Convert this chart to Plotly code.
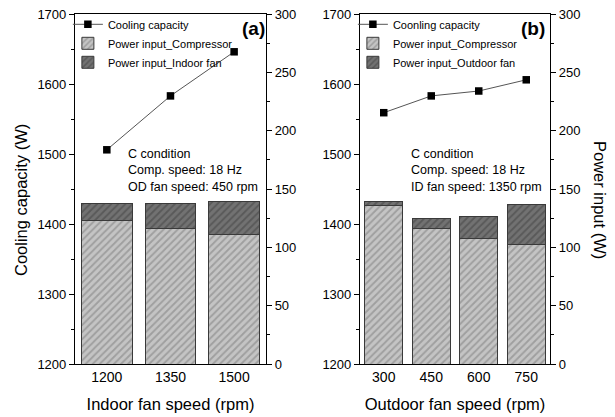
import plotly.graph_objects as go
from plotly.subplots import make_subplots

# ---- data ----
indoor_speed = ["1200", "1350", "1500"]
cap_a = [1506, 1583, 1646]
comp_a = [122.8, 116.3, 110.6]
fan_a = [15.2, 21.4, 28.8]

outdoor_speed = ["300", "450", "600", "750"]
cap_b = [1559, 1583, 1590, 1606]
comp_b = [136.0, 116.3, 107.7, 102.6]
fan_b = [3.7, 8.6, 18.6, 33.7]

FONT = "Arial, Liberation Sans, sans-serif"
LIGHT, LIGHT_FG = "#c4c4c4", "#7a7a7a"
DARK, DARK_FG = "#727272", "#404040"

fig = make_subplots(rows=1, cols=2, specs=[[{"secondary_y": True}, {"secondary_y": True}]])

def add_panel(col, xs, cap, comp, fan, cap_name, fan_name, legend):
    fig.add_trace(go.Bar(x=xs, y=comp, name="Power input_Compressor", legend=legend, legendrank=2,
                         marker=dict(color=LIGHT, line=dict(color="#3a3a3a", width=1),
                                     pattern=dict(shape="/", fgcolor=LIGHT_FG, bgcolor=LIGHT, size=5, solidity=0.38)),
                         width=0.8),
                  row=1, col=col, secondary_y=True)
    fig.add_trace(go.Bar(x=xs, y=fan, name=fan_name, legend=legend, legendrank=3,
                         marker=dict(color=DARK, line=dict(color="#3a3a3a", width=1),
                                     pattern=dict(shape="/", fgcolor=DARK_FG, bgcolor=DARK, size=5, solidity=0.38)),
                         width=0.8),
                  row=1, col=col, secondary_y=True)
    fig.add_trace(go.Scatter(x=xs, y=cap, name=cap_name, legend=legend, legendrank=1, mode="lines+markers",
                             line=dict(color="#555", width=1),
                             marker=dict(symbol="square", size=7.5, color="black")),
                  row=1, col=col, secondary_y=False)

add_panel(1, indoor_speed, cap_a, comp_a, fan_a, "Cooling capacity", "Power input_Indoor fan", "legend")
add_panel(2, outdoor_speed, cap_b, comp_b, fan_b, "Coonling capacity", "Power input_Outdoor fan", "legend2")

ytickfont = dict(family=FONT, size=13, color="black")
xtickfont = dict(family=FONT, size=14, color="black")
titlefont = dict(family=FONT, size=16.5, color="black")

xcommon = dict(showline=True, linecolor="black", linewidth=1.2, mirror=True, ticks="",
               tickfont=xtickfont, title_font=titlefont, showgrid=False, title_standoff=14)
fig.update_layout(
    xaxis=dict(domain=[0, 0.402], title_text="Indoor fan speed (rpm)", **xcommon),
    xaxis2=dict(domain=[0.6, 1.0], title_text="Outdoor fan speed (rpm)", **xcommon),
)

ycommon_left = dict(range=[1200, 1700], dtick=100, showline=True, linecolor="black", linewidth=1.2,
                    ticks="outside", ticklen=5, tickcolor="black", showgrid=False, zeroline=False,
                    minor=dict(dtick=50, ticks="outside", ticklen=3, tickcolor="black"),
                    tickfont=ytickfont, ticklabeloverflow="allow")
ycommon_right = dict(range=[0, 300], dtick=50, showline=True, linecolor="black", linewidth=1.2,
                     ticks="outside", ticklen=5, tickcolor="black", showgrid=False, zeroline=False,
                     minor=dict(dtick=25, ticks="outside", ticklen=3, tickcolor="black"),
                     tickfont=ytickfont, ticklabeloverflow="allow")
fig.update_layout(
    yaxis=dict(**ycommon_left),
    yaxis2=dict(**ycommon_right),
    yaxis3=dict(**ycommon_left),
    yaxis4=dict(**ycommon_right),
)

# y-axis titles as rotated text (the right one reads top-to-bottom as in the original)
fig.add_annotation(text="Cooling capacity (W)", x=-0.1137, y=0.4686, xref="paper", yref="paper",
                   xanchor="center", yanchor="middle", textangle=-90, showarrow=False, font=titlefont)
fig.add_annotation(text="Power input (W)", x=1.1053, y=0.4686, xref="paper", yref="paper",
                   xanchor="center", yanchor="middle", textangle=90, showarrow=False, font=titlefont)

legcommon = dict(font=dict(family=FONT, size=11, color="black"), bgcolor="rgba(0,0,0,0)",
                 yanchor="top", xanchor="left", traceorder="normal", tracegroupgap=0)
fig.update_layout(
    legend=dict(x=-0.015, y=1.012, **legcommon),
    legend2=dict(x=0.585, y=1.012, **legcommon),
)

fig.add_annotation(text="<b>(a)</b>", x=0.376, y=0.96, xref="paper", yref="paper",
                   xanchor="center", yanchor="middle",
                   showarrow=False, font=dict(family=FONT, size=19, color="black"))
fig.add_annotation(text="<b>(b)</b>", x=0.964, y=0.96, xref="paper", yref="paper",
                   xanchor="center", yanchor="middle",
                   showarrow=False, font=dict(family=FONT, size=19, color="black"))
fig.add_annotation(text="C condition<br>Comp. speed: 18 Hz<br>OD fan speed: 450 rpm",
                   x=0.1074, y=0.553, xref="paper", yref="paper", xanchor="left", yanchor="middle",
                   align="left", showarrow=False, font=dict(family=FONT, size=12.5, color="black"))
fig.add_annotation(text="C condition<br>Comp. speed: 18 Hz<br>ID fan speed: 1350 rpm",
                   x=0.703, y=0.553, xref="paper", yref="paper", xanchor="left", yanchor="middle",
                   align="left", showarrow=False, font=dict(family=FONT, size=12.5, color="black"))

# page body has an 8px default margin, so the figure is sized to fit the 615x417 window
fig.update_layout(
    width=607, height=409, barmode="stack", bargap=0.2,
    margin=dict(l=67, r=65, t=6, b=53, autoexpand=False),
    paper_bgcolor="white", plot_bgcolor="white",
    font=dict(family=FONT, color="black"),
)

fig.write_html("out.html")
